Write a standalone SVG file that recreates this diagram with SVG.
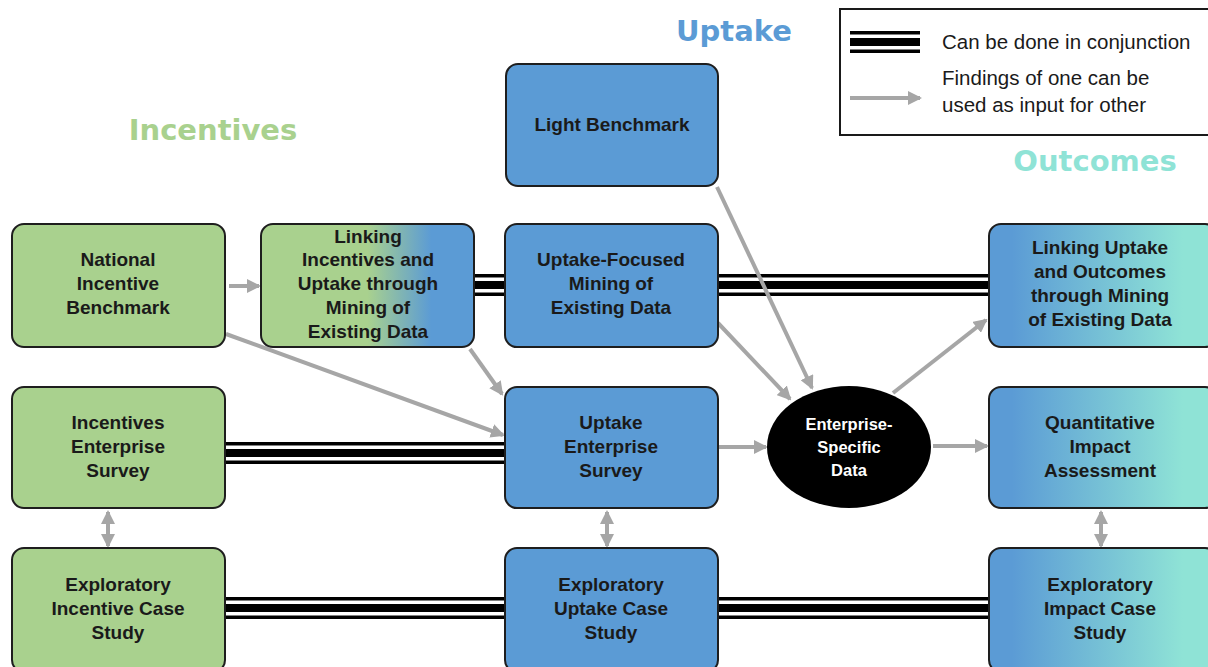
<svg xmlns="http://www.w3.org/2000/svg" width="1208" height="667" viewBox="0 0 1208 667">
<style>
.box{stroke:#1e1e1e;stroke-width:2}
.g{fill:#a9d18e}
.b{fill:#5b9bd5}
.t{font-family:"Liberation Sans",Arial,sans-serif;font-weight:bold;font-size:19px;fill:#1a1a1a;text-anchor:middle}
.w{font-family:"Liberation Sans",Arial,sans-serif;font-weight:bold;font-size:16.5px;fill:#ffffff;text-anchor:middle}
.h{font-family:"DejaVu Sans","Liberation Sans",sans-serif;font-weight:bold;font-size:29px;text-anchor:middle}
.lg{font-family:"Liberation Sans",Arial,sans-serif;font-size:20.5px;fill:#1a1a1a}
.arr{stroke:#a6a6a6;stroke-width:4;fill:none;marker-end:url(#ah)}
.dbl{stroke:#a6a6a6;stroke-width:4;fill:none;marker-end:url(#ah);marker-start:url(#ahs)}
.c1{stroke:#000;stroke-width:22;fill:none}
.c2{stroke:#fff;stroke-width:15;fill:none}
.c3{stroke:#000;stroke-width:8;fill:none}
</style>
<defs>
<marker id="ah" markerUnits="userSpaceOnUse" markerWidth="14" markerHeight="14" refX="12" refY="7" orient="auto">
<path d="M0,0 L14,7 L0,14 Z" fill="#a6a6a6"/>
</marker>
<marker id="ahs" markerUnits="userSpaceOnUse" markerWidth="14" markerHeight="14" refX="2" refY="7" orient="auto">
<path d="M14,0 L0,7 L14,14 Z" fill="#a6a6a6"/>
</marker>
<linearGradient id="gb" x1="0" y1="0" x2="1" y2="0">
<stop offset="0.5" stop-color="#a9d18e"/>
<stop offset="0.8" stop-color="#5b9bd5"/>
</linearGradient>
<linearGradient id="bt" x1="0" y1="0" x2="1" y2="0">
<stop offset="0.1" stop-color="#5b9bd5"/>
<stop offset="0.85" stop-color="#8fe3d6"/>
</linearGradient>
</defs>
<rect width="1208" height="667" fill="#ffffff"/>

<g id="headings">
<text class="h" x="734" y="41" fill="#5b9bd5">Uptake</text>
<text class="h" x="213" y="140" fill="#a9d18e">Incentives</text>
<text class="h" x="1095" y="171" fill="#8fe3d6">Outcomes</text>
</g>

<g id="legend">
<rect x="840" y="9" width="378" height="126" fill="#fff" stroke="#1a1a1a" stroke-width="2"/>
<line class="c1" x1="850" y1="42" x2="920" y2="42"/>
<line class="c2" x1="850" y1="42" x2="920" y2="42"/>
<line class="c3" x1="850" y1="42" x2="920" y2="42"/>
<text class="lg" x="942" y="49">Can be done in conjunction</text>
<line class="arr" x1="850" y1="98" x2="920" y2="98"/>
<text class="lg" x="942" y="85">Findings of one can be</text>
<text class="lg" x="942" y="112">used as input for other</text>
</g>

<g id="connectors">
<line class="c1" x1="474" y1="285" x2="989" y2="285"/>
<line class="c2" x1="474" y1="285" x2="989" y2="285"/>
<line class="c3" x1="474" y1="285" x2="989" y2="285"/>
<line class="c1" x1="225" y1="453" x2="505" y2="453"/>
<line class="c2" x1="225" y1="453" x2="505" y2="453"/>
<line class="c3" x1="225" y1="453" x2="505" y2="453"/>
<line class="c1" x1="225" y1="608" x2="989" y2="608"/>
<line class="c2" x1="225" y1="608" x2="989" y2="608"/>
<line class="c3" x1="225" y1="608" x2="989" y2="608"/>
<line class="arr" x1="229" y1="286" x2="259" y2="286"/>
<line class="arr" x1="226" y1="334" x2="503" y2="435"/>
<line class="arr" x1="470" y1="349" x2="502" y2="394"/>
<line class="arr" x1="717" y1="187" x2="812" y2="388"/>
<line class="arr" x1="718" y1="323" x2="790" y2="399"/>
<line class="arr" x1="893" y1="393" x2="986" y2="320"/>
<line class="arr" x1="719" y1="447" x2="766" y2="447"/>
<line class="arr" x1="933" y1="446" x2="987" y2="446"/>
<line class="dbl" x1="108" y1="512" x2="108" y2="546"/>
<line class="dbl" x1="607" y1="512" x2="607" y2="546"/>
<line class="dbl" x1="1101" y1="512" x2="1101" y2="546"/>
</g>

<g id="light-benchmark">
<rect class="box b" x="506" y="64" width="212" height="122" rx="12"/>
<text class="t" x="612" y="131">Light Benchmark</text>
</g>
<g id="national-incentive-benchmark">
<rect class="box g" x="12" y="224" width="213" height="123" rx="12"/>
<text class="t" x="118" y="266">National</text>
<text class="t" x="118" y="290">Incentive</text>
<text class="t" x="118" y="314">Benchmark</text>
</g>
<g id="linking-incentives-uptake">
<rect class="box" x="261" y="224" width="213" height="123" rx="12" fill="url(#gb)"/>
<text class="t" x="368" y="243">Linking</text>
<text class="t" x="368" y="266">Incentives and</text>
<text class="t" x="368" y="290">Uptake through</text>
<text class="t" x="368" y="314">Mining of</text>
<text class="t" x="368" y="338">Existing Data</text>
</g>
<g id="uptake-focused-mining">
<rect class="box b" x="505" y="224" width="213" height="123" rx="12"/>
<text class="t" x="611" y="266">Uptake-Focused</text>
<text class="t" x="611" y="290">Mining of</text>
<text class="t" x="611" y="314">Existing Data</text>
</g>
<g id="linking-uptake-outcomes">
<rect class="box" x="989" y="224" width="228" height="123" rx="12" fill="url(#bt)"/>
<text class="t" x="1100" y="254">Linking Uptake</text>
<text class="t" x="1100" y="278">and Outcomes</text>
<text class="t" x="1100" y="302">through Mining</text>
<text class="t" x="1100" y="326">of Existing Data</text>
</g>
<g id="incentives-enterprise-survey">
<rect class="box g" x="12" y="387" width="213" height="121" rx="12"/>
<text class="t" x="118" y="429">Incentives</text>
<text class="t" x="118" y="453">Enterprise</text>
<text class="t" x="118" y="477">Survey</text>
</g>
<g id="uptake-enterprise-survey">
<rect class="box b" x="505" y="387" width="213" height="121" rx="12"/>
<text class="t" x="611" y="429">Uptake</text>
<text class="t" x="611" y="453">Enterprise</text>
<text class="t" x="611" y="477">Survey</text>
</g>
<g id="enterprise-specific-data">
<ellipse cx="849" cy="447" rx="82" ry="61" fill="#000"/>
<text class="w" x="849" y="430">Enterprise-</text>
<text class="w" x="849" y="453">Specific</text>
<text class="w" x="849" y="476">Data</text>
</g>
<g id="quantitative-impact-assessment">
<rect class="box" x="989" y="387" width="228" height="121" rx="12" fill="url(#bt)"/>
<text class="t" x="1100" y="429">Quantitative</text>
<text class="t" x="1100" y="453">Impact</text>
<text class="t" x="1100" y="477">Assessment</text>
</g>
<g id="exploratory-incentive-case-study">
<rect class="box g" x="12" y="548" width="213" height="124" rx="12"/>
<text class="t" x="118" y="591">Exploratory</text>
<text class="t" x="118" y="615">Incentive Case</text>
<text class="t" x="118" y="639">Study</text>
</g>
<g id="exploratory-uptake-case-study">
<rect class="box b" x="505" y="548" width="213" height="124" rx="12"/>
<text class="t" x="611" y="591">Exploratory</text>
<text class="t" x="611" y="615">Uptake Case</text>
<text class="t" x="611" y="639">Study</text>
</g>
<g id="exploratory-impact-case-study">
<rect class="box" x="989" y="548" width="228" height="124" rx="12" fill="url(#bt)"/>
<text class="t" x="1100" y="591">Exploratory</text>
<text class="t" x="1100" y="615">Impact Case</text>
<text class="t" x="1100" y="639">Study</text>
</g>
</svg>
